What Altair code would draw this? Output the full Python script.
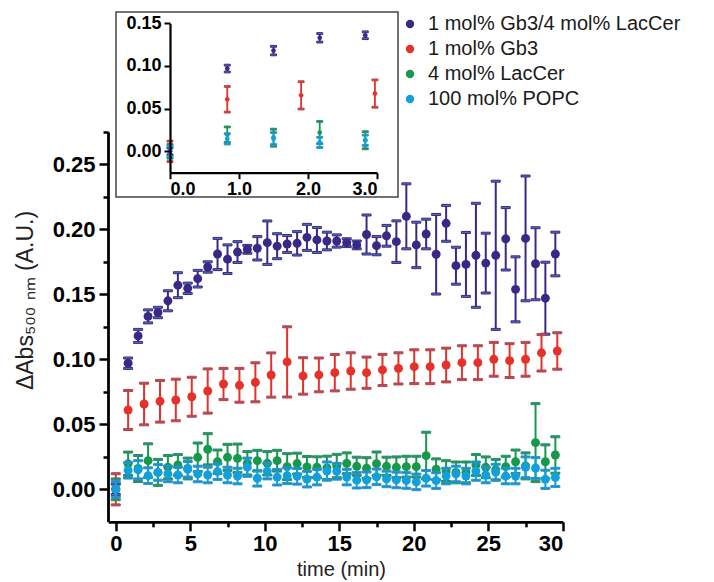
import altair as alt
import pandas as pd

# ---- series -----------------------------------------------------------
series_names = ["1 mol% Gb3/4 mol% LacCer", "1 mol% Gb3", "4 mol% LacCer", "100 mol% POPC"]
series_colors = ["#3a2887", "#e5312a", "#16994a", "#12a0dc"]

# sampling times (min)
time_40s = [0, 0.83, 1.5, 2.17, 2.83, 3.5, 4.17, 4.83, 5.5, 6.17, 6.83, 7.5, 8.17,
            8.83, 9.5, 10.17, 10.83, 11.5, 12.17, 12.83, 13.5, 14.17, 14.83, 15.5,
            16.17, 16.83, 17.5, 18.17, 18.83, 19.5, 20.17, 20.83, 21.5, 22.17,
            22.83, 23.5, 24.17, 24.83, 25.5, 26.17, 26.83, 27.5, 28.17, 28.83, 29.5]
time_64s = [0, 0.83, 1.9, 2.97, 4.03, 5.1, 6.17, 7.23, 8.3, 9.37, 10.43, 11.5, 12.57,
            13.63, 14.7, 15.77, 16.83, 17.9, 18.97, 20.03, 21.1, 22.17, 23.23, 24.3,
            25.37, 26.43, 27.5, 28.57, 29.63]

gb3_lac = [0, 0.097, 0.118, 0.133, 0.136, 0.145, 0.157, 0.1546, 0.162, 0.171, 0.181,
           0.177, 0.1825, 0.1846, 0.1854, 0.1897, 0.187, 0.1887, 0.1892, 0.1938, 0.1918,
           0.191, 0.191, 0.1897, 0.188, 0.196, 0.1874, 0.195, 0.1905, 0.21, 0.188,
           0.1964, 0.1808, 0.2046, 0.172, 0.173, 0.18, 0.174, 0.18, 0.1927, 0.1538,
           0.193, 0.1735, 0.147, 0.181]
gb3_lac_err = [0.004, 0.004, 0.005, 0.005, 0.004, 0.0077, 0.0096, 0.004, 0.0064, 0.004,
               0.012, 0.011, 0.008, 0.003, 0.009, 0.0167, 0.0096, 0.0065, 0.009, 0.01,
               0.0096, 0.0068, 0.0047, 0.003, 0.003, 0.015, 0.007, 0.008, 0.016, 0.025,
               0.0175, 0.0114, 0.0306, 0.0138, 0.0142, 0.0246, 0.04, 0.023, 0.057, 0.024,
               0.025, 0.048, 0.0277, 0.0277, 0.0168]

gb3 = [0, 0.061, 0.0656, 0.0677, 0.0687, 0.0712, 0.0756, 0.081, 0.08, 0.0823, 0.0879,
       0.098, 0.0872, 0.088, 0.0897, 0.091, 0.0897, 0.0918, 0.093, 0.0943, 0.0943,
       0.0956, 0.0974, 0.0974, 0.1, 0.099, 0.1, 0.105, 0.1064]
gb3_err = [0.012, 0.015, 0.016, 0.016, 0.016, 0.015, 0.017, 0.012, 0.013, 0.015, 0.017,
           0.027, 0.014, 0.013, 0.014, 0.014, 0.012, 0.012, 0.012, 0.013, 0.013, 0.013,
           0.013, 0.013, 0.013, 0.013, 0.013, 0.014, 0.014]

lac = [0, 0.0196, 0.016, 0.022, 0.013, 0.017, 0.0187, 0.016, 0.0246, 0.0308, 0.0212,
       0.0246, 0.0238, 0.02, 0.022, 0.02, 0.022, 0.0174, 0.0198, 0.0172, 0.017, 0.0165,
       0.0179, 0.02, 0.0177, 0.0163, 0.0197, 0.0177, 0.0169, 0.0174, 0.0174, 0.0259,
       0.0154, 0.014, 0.013, 0.013, 0.0187, 0.0169, 0.015, 0.0174, 0.0212, 0.018,
       0.0359, 0.0212, 0.0264]
lac_err = [0.008, 0.009, 0.01, 0.013, 0.01, 0.009, 0.008, 0.008, 0.011, 0.012, 0.009,
           0.01, 0.011, 0.009, 0.008, 0.009, 0.008, 0.01, 0.008, 0.008, 0.008, 0.009,
           0.009, 0.008, 0.007, 0.008, 0.009, 0.007, 0.008, 0.008, 0.008, 0.018, 0.008,
           0.008, 0.008, 0.008, 0.008, 0.008, 0.008, 0.008, 0.009, 0.01, 0.03, 0.013,
           0.014]

popc = [0, 0.0146, 0.015, 0.0105, 0.013, 0.0118, 0.011, 0.0154, 0.0118, 0.011, 0.0136,
        0.011, 0.0102, 0.017, 0.0085, 0.014, 0.0093, 0.0105, 0.01, 0.0078, 0.0094, 0.014,
        0.0138, 0.0094, 0.007, 0.0073, 0.0096, 0.008, 0.0072, 0.0068, 0.0057, 0.0085,
        0.0067, 0.0102, 0.0118, 0.0102, 0.014, 0.011, 0.0133, 0.0102, 0.0102, 0.0169,
        0.0164, 0.0077, 0.0092]
popc_err = [0.006, 0.006, 0.007, 0.006, 0.006, 0.006, 0.006, 0.006, 0.006, 0.006, 0.006,
            0.006, 0.006, 0.007, 0.006, 0.006, 0.006, 0.006, 0.006, 0.006, 0.006, 0.007,
            0.006, 0.006, 0.006, 0.006, 0.006, 0.006, 0.006, 0.006, 0.006, 0.006, 0.006,
            0.006, 0.006, 0.006, 0.007, 0.006, 0.006, 0.006, 0.006, 0.008, 0.008, 0.007,
            0.007]

main_x_ticks = [0, 2.5, 5, 7.5, 10, 12.5, 15, 17.5, 20, 22.5, 25, 27.5, 30]
main_y_ticks = [0, 0.025, 0.05, 0.075, 0.1, 0.125, 0.15, 0.175, 0.2, 0.225, 0.25, 0.275]
inset_x_ticks = [0, 1, 2, 3]
inset_y_ticks = [0, 0.05, 0.1, 0.15]


def frame(times, vals, errs, name):
    return pd.DataFrame({"t": times, "v": vals, "err": errs, "series": name})


df = pd.concat([
    frame(time_40s, gb3_lac, gb3_lac_err, series_names[0]),
    frame(time_64s, gb3, gb3_err, series_names[1]),
    frame(time_40s, lac, lac_err, series_names[2]),
    frame(time_40s, popc, popc_err, series_names[3]),
], ignore_index=True)
df["lo"] = df["v"] - df["err"]
df["hi"] = df["v"] + df["err"]
df["col"] = df["series"].map(dict(zip(series_names, series_colors)))
df_inset = df[df["t"] <= 3.01].reset_index(drop=True)

TICK_FONT = "Liberation Sans, Arial"
TEXT_FONT = "Liberation Sans, Arial"

color_scale = alt.Scale(domain=series_names, range=series_colors)

legend = alt.Legend(
    orient="none", legendX=400, legendY=14, title=None, padding=0,
    labelFont=TEXT_FONT, labelFontSize=20, labelColor="#1a1a1a", labelLimit=400,
    symbolType="circle", symbolSize=70, symbolStrokeWidth=0, symbolOpacity=1,
    rowPadding=5, labelOffset=8)

# error bars and inset dots take their colour straight from the data,
# so only the main dots feed the legend
stroke_enc = alt.Stroke("col:N", scale=None)


def series_layers(data, xs, ys, xaxis, yaxis, dot_size, cap, width, dot_color):
    base = alt.Chart(data)
    x = alt.X("t:Q", scale=xs, axis=xaxis)
    bars = base.mark_rule(strokeWidth=width, opacity=1).encode(
        x=x, y=alt.Y("lo:Q", scale=ys, axis=yaxis), y2="hi:Q", stroke=stroke_enc)
    caps = base.transform_fold(["lo", "hi"], as_=["end", "val"]).mark_tick(
        orient="horizontal", size=cap, thickness=width, opacity=1).encode(
        x=x, y=alt.Y("val:Q", scale=ys), stroke=stroke_enc)
    dots = base.mark_circle(size=dot_size, opacity=1).encode(
        x=x, y=alt.Y("v:Q", scale=ys), **dot_color)
    return [bars, caps, dots]


# ---- main panel -------------------------------------------------------
main_xs = alt.Scale(domain=[-0.5, 30], range=[108.3, 562.8], nice=False, zero=False)
main_ys = alt.Scale(domain=[-0.025, 0.275], range=[521.8, 131.8], nice=False, zero=False)

main_xaxis = alt.Axis(
    orient="bottom", offset=-60.2, values=main_x_ticks, grid=False,
    labelExpr="datum.value % 5 == 0 ? format(datum.value, 'd') : ''",
    tickSize={"condition": {"test": "datum.value % 5 != 0", "value": 5}, "value": 9},
    tickWidth=2.5, tickColor="black", domainWidth=2.8, domainColor="black",
    labelFont=TICK_FONT, labelFontSize=22, labelFontWeight="bold", labelColor="black",
    labelPadding=3, labelOverlap=False,
    title="time (min)", titleFont=TEXT_FONT, titleFontSize=20, titleFontWeight="normal",
    titleColor="#222", titleX=341, titleY=48, titleBaseline="middle")

main_yaxis = alt.Axis(
    orient="left", offset=-108, values=main_y_ticks, grid=False,
    labelExpr="abs(datum.value * 20 - round(datum.value * 20)) < 0.01 ? format(datum.value, '.2f') : ''",
    tickSize={"condition": {"test": "abs(datum.value * 20 - round(datum.value * 20)) > 0.01",
                            "value": 5}, "value": 9},
    tickWidth=2.5, tickColor="black", domainWidth=2.8, domainColor="black",
    labelFont=TICK_FONT, labelFontSize=22, labelFontWeight="bold", labelColor="black",
    labelPadding=4, labelOverlap=False,
    title="ΔAbs₅₀₀ ₙₘ (A.U.)", titleFont=TEXT_FONT, titleFontSize=23,
    titleFontWeight="normal", titleColor="#222", titleX=-83, titleY=300,
    titleBaseline="middle", titleAngle=270)

main_layers = []
for name in series_names:
    sub = df[df["series"] == name]
    main_layers += series_layers(
        sub, main_xs, main_ys, main_xaxis, main_yaxis,
        dot_size=80, cap=9, width=2,
        dot_color={"color": alt.Color("series:N", scale=color_scale, legend=legend)})
main = alt.layer(*main_layers)

# ---- inset (first 3 min) ----------------------------------------------
inset_xs = alt.Scale(domain=[0, 3], range=[170, 377], nice=False, zero=False)
inset_ys = alt.Scale(domain=[-0.025, 0.15], range=[172.7, 23.3], nice=False, zero=False)

inset_xaxis = alt.Axis(
    orient="bottom", offset=-409.3, values=inset_x_ticks, grid=False, format=".1f",
    tickSize=6, tickWidth=2, tickColor="black", domainWidth=2.2, domainColor="black",
    labelFont=TICK_FONT, labelFontSize=18, labelFontWeight="bold", labelColor="black",
    labelPadding=2, title=None, zindex=1)
inset_yaxis = alt.Axis(
    orient="left", offset=-170, values=inset_y_ticks, grid=False, format=".2f",
    tickSize=6, tickWidth=2, tickColor="black", domainWidth=2.2, domainColor="black",
    labelFont=TICK_FONT, labelFontSize=18, labelFontWeight="bold", labelColor="black",
    labelPadding=3, title=None, zindex=1)

box = alt.Chart(pd.DataFrame({"frame": [0]})).mark_rect(
    fill="white", stroke="#444", strokeWidth=1.5).encode(
    x=alt.value(116), x2=alt.value(398), y=alt.value(12), y2=alt.value(197))

inset_layers = [box]
for name in series_names:
    sub = df_inset[df_inset["series"] == name]
    inset_layers += series_layers(
        sub, inset_xs, inset_ys, inset_xaxis, inset_yaxis,
        dot_size=22, cap=6, width=1.8,
        dot_color={"fill": alt.Fill("col:N", scale=None)})
inset = alt.layer(*inset_layers)

chart = alt.layer(main, inset).resolve_scale(
    x="independent", y="independent"
).properties(
    width=714, height=582, padding=0,
    autosize=alt.AutoSizeParams(type="none"),
    background="white",
).configure_view(stroke=None)

chart.save("out.html", embed_options={"renderer": "svg", "actions": False})
